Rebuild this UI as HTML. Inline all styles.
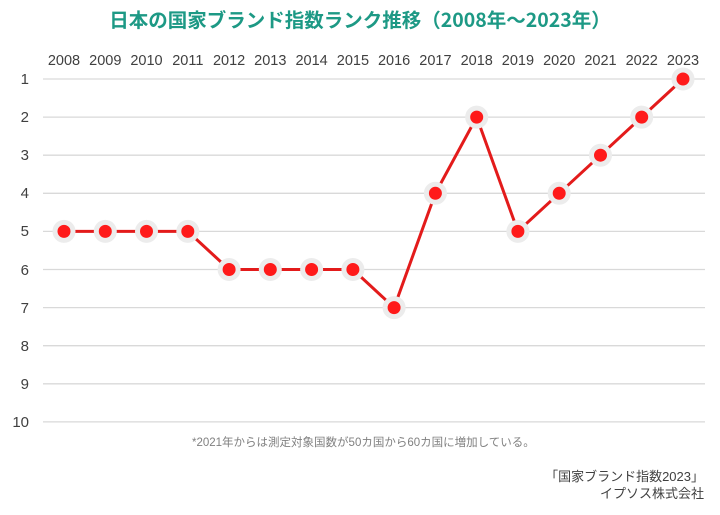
<!DOCTYPE html>
<html><head><meta charset="utf-8"><style>body{margin:0;background:#fff}</style></head><body>
<svg width="720" height="510" xmlns="http://www.w3.org/2000/svg" font-family="'Liberation Sans','Noto Sans CJK JP',sans-serif">
<rect width="720" height="510" fill="#fff"/>
<text x="360" y="27" text-anchor="middle" font-size="19.5" font-weight="bold" fill="#1d9985" font-family="'Noto Sans CJK JP',sans-serif">日本の国家ブランド指数ランク推移（2008年～2023年）</text>
<g stroke="#d9d9d9" stroke-width="1.3">
<line x1="43" x2="705" y1="79" y2="79"/><line x1="43" x2="705" y1="117.1" y2="117.1"/><line x1="43" x2="705" y1="155.2" y2="155.2"/><line x1="43" x2="705" y1="193.3" y2="193.3"/><line x1="43" x2="705" y1="231.4" y2="231.4"/><line x1="43" x2="705" y1="269.5" y2="269.5"/><line x1="43" x2="705" y1="307.6" y2="307.6"/><line x1="43" x2="705" y1="345.7" y2="345.7"/><line x1="43" x2="705" y1="383.8" y2="383.8"/><line x1="43" x2="705" y1="421.9" y2="421.9"/>
</g>
<g font-size="15" fill="#404040" text-anchor="end">
<text x="29" y="84">1</text><text x="29" y="122">2</text><text x="29" y="160">3</text><text x="29" y="198">4</text><text x="29" y="236">5</text><text x="29" y="275">6</text><text x="29" y="313">7</text><text x="29" y="351">8</text><text x="29" y="389">9</text><text x="29" y="427">10</text>
</g>
<g font-size="14.5" fill="#404040" text-anchor="middle">
<text x="64" y="65">2008</text><text x="105.3" y="65">2009</text><text x="146.5" y="65">2010</text><text x="187.8" y="65">2011</text><text x="229.1" y="65">2012</text><text x="270.3" y="65">2013</text><text x="311.6" y="65">2014</text><text x="352.9" y="65">2015</text><text x="394.1" y="65">2016</text><text x="435.4" y="65">2017</text><text x="476.7" y="65">2018</text><text x="517.9" y="65">2019</text><text x="559.2" y="65">2020</text><text x="600.5" y="65">2021</text><text x="641.7" y="65">2022</text><text x="683" y="65">2023</text>
</g>
<polyline fill="none" stroke="#e31b1b" stroke-width="3" points="64,231.4 105.3,231.4 146.5,231.4 187.8,231.4 229.1,269.5 270.3,269.5 311.6,269.5 352.9,269.5 394.1,307.6 435.4,193.3 476.7,117.1 517.9,231.4 559.2,193.3 600.5,155.2 641.7,117.1 683,79"/>
<g fill="#ff1a1a" stroke="#ececec" stroke-width="5">
<circle cx="64" cy="231.4" r="9"/><circle cx="105.3" cy="231.4" r="9"/><circle cx="146.5" cy="231.4" r="9"/><circle cx="187.8" cy="231.4" r="9"/><circle cx="229.1" cy="269.5" r="9"/><circle cx="270.3" cy="269.5" r="9"/><circle cx="311.6" cy="269.5" r="9"/><circle cx="352.9" cy="269.5" r="9"/><circle cx="394.1" cy="307.6" r="9"/><circle cx="435.4" cy="193.3" r="9"/><circle cx="476.7" cy="117.1" r="9"/><circle cx="517.9" cy="231.4" r="9"/><circle cx="559.2" cy="193.3" r="9"/><circle cx="600.5" cy="155.2" r="9"/><circle cx="641.7" cy="117.1" r="9"/><circle cx="683" cy="79" r="9"/>
</g>
<text x="192" y="446" font-size="11.5" fill="#808080">*2021年からは測定対象国数が50カ国から60カ国に増加している。</text>
<text x="704" y="481" font-size="13" fill="#404040" text-anchor="end">「国家ブランド指数2023」</text>
<text x="704" y="498" font-size="13" fill="#404040" text-anchor="end">イプソス株式会社</text>
</svg>
</body></html>
